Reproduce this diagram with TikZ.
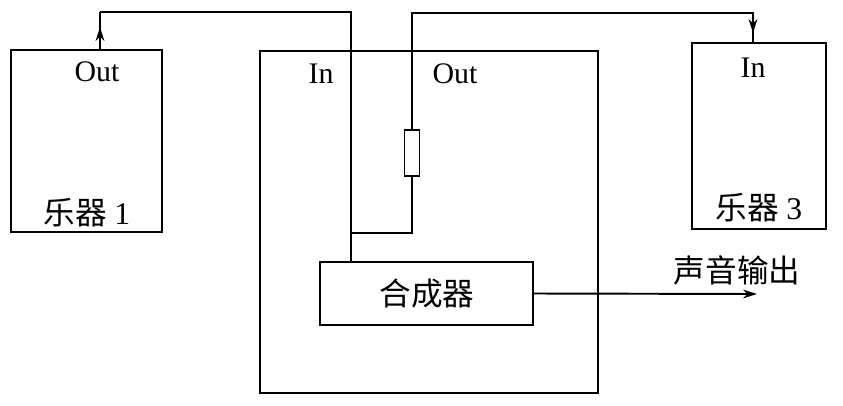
\documentclass[tikz,border=0pt]{standalone}
\usepackage{fontspec}
\setmainfont{Liberation Serif}
\newfontfamily\cjk{Noto Sans CJK SC}
\usetikzlibrary{arrows.meta,decorations.markings}

\tikzset{
  box/.style={draw,line width=1.6pt,inner sep=0pt,outer sep=0pt},
  wire/.style={line width=1.1pt},
  resbox/.style={draw,line width=0.8pt,fill=white,inner sep=0pt,outer sep=0pt,minimum width=0.3cm,minimum height=0.92cm},
  lbl/.style={font=\fontsize{17}{20}\selectfont,inner sep=0pt},
  cjklbl/.style={font=\fontsize{18}{21}\selectfont\cjk,inner sep=0pt},
  arrowat/.style={postaction={decorate},decoration={markings,mark=at position #1 with {\arrow{Stealth[length=8pt,width=5pt]}}}}
}

\begin{document}
\begin{tikzpicture}[x=0.02cm,y=-0.02cm]
  \useasboundingbox (0,0) rectangle (843,406);
  % instruments and the host box
  \node[box,minimum width=3.02cm,minimum height=3.64cm] (inst1) at (86.5,141) {};
  \node[box,minimum width=6.76cm,minimum height=6.84cm] (host) at (429,222) {};
  \node[box,minimum width=2.68cm,minimum height=3.72cm] (inst3) at (759,136) {};
  \node[box,minimum width=4.26cm,minimum height=1.26cm] (synth) at (426.5,293.5) {};
  \node[cjklbl] (synthtxt) at (427,294) {合成器};
  % labels
  \node[lbl] (out1) at (97,72) {Out};
  \node[cjklbl] (name1) at (87,213) {乐器\ \rmfamily 1};
  \node[lbl] (hostin) at (321,74) {In};
  \node[lbl] (hostout) at (455,74) {Out};
  \node[lbl] (in3) at (753,68) {In};
  \node[cjklbl] (name3) at (759,208) {乐器\ \rmfamily 3};
  % wiring
  \coordinate (port1) at (100,50);
  \coordinate (top1) at (100,12);
  \coordinate (synthin) at (351,262);
  \coordinate (split) at (351,233);
  \coordinate (bend) at (412,233);
  \coordinate (top3) at (412,13);
  \coordinate (port3) at (753,43);
  \node[resbox] (res) at (412,153) {};
  \draw[wire,arrowat=0.46cm] (port1) -- (top1);
  \draw[wire] (top1) -| (synthin);
  \draw[wire] (split) -- (bend) -- (res.south);
  \draw[wire,arrowat=-0.2cm] (res.north) -- (top3) -| (port3);
  % output
  \coordinate (sndout) at (757,294);
  \draw[wire,-{Stealth[length=8pt,width=5pt]}] (synth.east) -- (sndout);
  \node[cjklbl] (outtxt) at (737,270) {声音输出};
\end{tikzpicture}
\end{document}
